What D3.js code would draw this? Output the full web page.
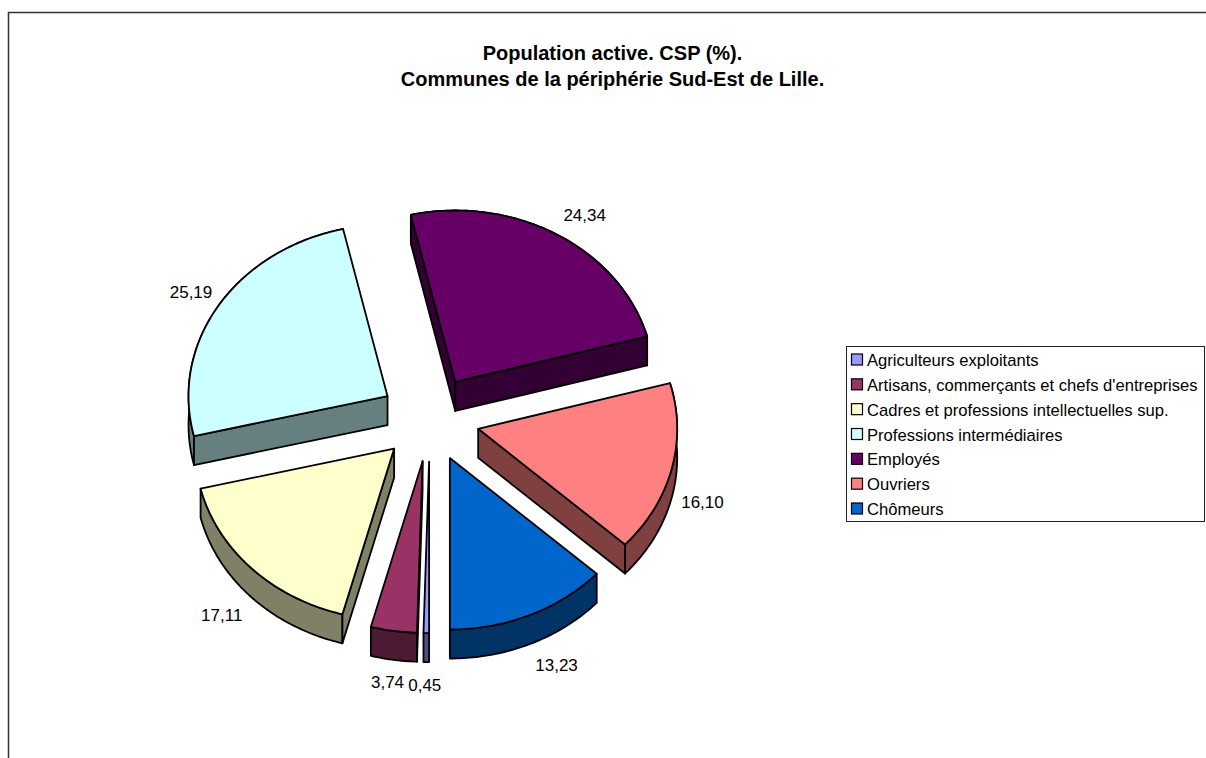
<!DOCTYPE html>
<html><head><meta charset="utf-8">
<script src="https://cdn.jsdelivr.net/npm/d3@7/dist/d3.min.js"></script>
<style>html,body{margin:0;padding:0;background:#fff;overflow:hidden}svg{display:block}text{font-family:"Liberation Sans",Arial,sans-serif;fill:#000}</style>
</head><body><svg id="c" width="1206" height="758"></svg>
<script>
const categories=["Agriculteurs exploitants","Artisans, commerçants et chefs d'entreprises","Cadres et professions intellectuelles sup.","Professions intermédiaires","Employés","Ouvriers","Chômeurs"];
const values=[0.45,3.74,17.11,25.19,24.34,16.10,13.23];
const valueLabels=["0,45","3,74","17,11","25,19","24,34","16,10","13,23"];
const colors=["#9999FF","#993366","#FFFFCC","#CCFFFF","#660066","#FF8080","#0066CC"];
const titleLines=["Population active. CSP (%).","Communes de la périphérie Sud-Est de Lille."];

const W=1206,H=758,cx=429.8,cy=418.8,rx=199,ry=171.5,depth=29,explode=0.25;
const labelNudge=[[-1,21],[-1,21],[-4,25],[3,3],[9,7],[-4,26],[12,22]];
const svg=d3.select("#c");
const x=d3.scaleLinear().domain([-1,1]).range([cx-rx,cx+rx]);
const y=d3.scaleLinear().domain([-1,1]).range([cy-ry,cy+ry]);
const pie=d3.pie().sort(null).startAngle(Math.PI).endAngle(3*Math.PI);
const arcs=pie(values);
const line=d3.line();

// chart frame
svg.append("path").attr("d",`M8.5,${H}V12.5H${W}`).attr("fill","none").attr("stroke","#333").attr("stroke-width",1.5);

// title
svg.append("g").selectAll("text").data(titleLines).join("text")
  .attr("x",612.5).attr("y",(d,i)=>60+i*26).attr("text-anchor","middle")
  .attr("font-size",20).attr("font-weight","bold").text(d=>d);

// slices
const order=arcs.map((a,i)=>i).sort((p,q)=>{
  const m=i=>(arcs[i].startAngle+arcs[i].endAngle)/2;
  return -Math.cos(m(p))-(-Math.cos(m(q)));
});
const gp=svg.append("g");
order.forEach(i=>{
  const a=arcs[i],mid=(a.startAngle+a.endAngle)/2;
  const ox=explode*Math.sin(mid),oy=-explode*Math.cos(mid);
  const P=(ang,r=1,dz=0)=>[x(ox+r*Math.sin(ang)),y(oy-r*Math.cos(ang))+dz];
  const fill=colors[i];
  const c=d3.rgb(fill);
  const side=d3.rgb(c.r*0.5,c.g*0.5,c.b*0.5).formatHex();
  const g=gp.append("g").attr("stroke","#000").attr("stroke-width",1.8).attr("stroke-linejoin","round");
  // rim wall
  const n=Math.max(4,Math.ceil((a.endAngle-a.startAngle)*60));
  const angs=d3.range(n+1).map(k=>a.startAngle+(a.endAngle-a.startAngle)*k/n);
  g.append("path").attr("fill",side)
   .attr("d",line(angs.map(t=>P(t)).concat(angs.slice().reverse().map(t=>P(t,1,depth))))+"Z");
  // cut faces: only those turned towards the viewer
  [[a.startAngle,-1],[a.endAngle,1]].forEach(([ang,sgn])=>{
    if(sgn*Math.sin(ang)<=1e-6) return;
    g.append("path").attr("fill",side)
     .attr("d",line([P(ang,0),P(ang),P(ang,1,depth),P(ang,0,depth)])+"Z");
  });
  // top face
  g.append("path").attr("fill",fill)
   .attr("d",line([P(a.startAngle,0)].concat(angs.map(t=>P(t))))+"Z");
});

// data labels
svg.append("g").selectAll("text").data(arcs).join("text")
  .attr("x",(a,i)=>x(1.43*Math.sin((a.startAngle+a.endAngle)/2))+labelNudge[i][0])
  .attr("y",(a,i)=>y(-1.43*Math.cos((a.startAngle+a.endAngle)/2))+labelNudge[i][1]+6)
  .attr("text-anchor","middle").attr("font-size",17)
  .text((a,i)=>valueLabels[i]);

// legend
const leg=svg.append("g");
leg.append("rect").attr("x",846.5).attr("y",346.5).attr("width",358).attr("height",175)
  .attr("fill","#fff").attr("stroke","#222").attr("stroke-width",1);
const ly=d3.scalePoint().domain(d3.range(categories.length)).range([360,509]);
categories.forEach((t,i)=>{
  leg.append("rect").attr("x",851.5).attr("y",ly(i)-6).attr("width",11).attr("height",11)
    .attr("fill",colors[i]).attr("stroke","#000").attr("stroke-width",1.2);
  leg.append("text").attr("x",867).attr("y",ly(i)+6).attr("font-size",16.6).text(t);
});
</script></body></html>
